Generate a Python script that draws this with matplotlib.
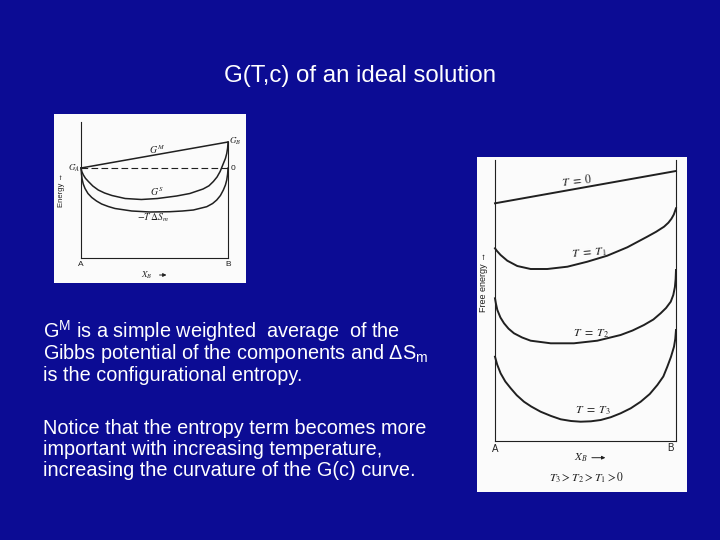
import numpy as np
import matplotlib.pyplot as plt

plt.rcParams['font.family'] = ['Liberation Sans', 'DejaVu Sans']
plt.rcParams['mathtext.fontset'] = 'custom'
plt.rcParams['mathtext.rm'] = 'Liberation Sans'
plt.rcParams['mathtext.it'] = 'Liberation Sans:italic'

bg = '#0c0c94'
ink = '#202020'
paper = '#fbfbfb'

# left sketch: x = X_B, energy relative to G_A (dashed line = 0)
x_gm = [0, 1]
g_mix = [0, 26]
x_gs = [0, 0.005, 0.016, 0.03, 0.05, 0.08, 0.117, 0.16, 0.21, 0.30, 0.41,
        0.52, 0.65, 0.74, 0.83, 0.87, 0.90, 0.925, 0.946, 0.968, 0.982,
        0.991, 0.997, 1.0]
g_sol = [0, -3.5, -7, -10.3, -13.5, -18, -22, -25, -27.5, -30.5, -31.5,
         -30.5, -28, -25.5, -21, -17.8, -13.5, -9, -3.5, 4.5, 9.5,
         14.5, 20, 26]
x_ts = [0, 0.003, 0.007, 0.015, 0.027, 0.047, 0.073, 0.105, 0.14, 0.185,
        0.231, 0.345, 0.469, 0.605, 0.69, 0.764, 0.855, 0.895, 0.923,
        0.948, 0.968, 0.982, 0.991, 0.997, 1.0]
g_ts = [0, -6, -11, -16, -20.5, -25.5, -29.5, -33, -36, -38.5,
        -40.5, -43, -44, -43.7, -43, -42, -38.7, -35.5, -32,
        -27.5, -22, -17, -12, -6, 0]

# right sketch: free energy curves at four temperatures
x_t0 = [0, 1]
g_t0 = [237.7, 270]
x_t1 = [0, 0.01, 0.031, 0.068, 0.123, 0.197, 0.289, 0.4, 0.51, 0.62,
        0.731, 0.841, 0.89, 0.934, 0.958, 0.975, 0.988, 1.0]
g_t1 = [192.7, 190.2, 186, 180.3, 175, 172, 172, 174.3, 179.3, 185.3,
        193.7, 204.3, 209.2, 214.3, 218.3, 222.3, 226.5, 232.7]
x_t2 = [0, 0.005, 0.013, 0.03, 0.05, 0.075, 0.105, 0.15, 0.197, 0.308,
        0.436, 0.565, 0.694, 0.76, 0.823, 0.875, 0.915, 0.945, 0.971,
        0.985, 0.994, 0.998, 1.0]
g_t2 = [142.7, 137.5, 131, 123.5, 117.7, 112.3, 107.7, 103.5, 100.3, 97.7,
        97.7, 100.3, 106, 110.5, 116, 121.5, 127.7, 133, 139.3,
        146, 154, 162, 171]
x_t3 = [0, 0.012, 0.031, 0.057, 0.087, 0.12, 0.16, 0.2, 0.252, 0.31,
        0.363, 0.42, 0.473, 0.53, 0.584, 0.64, 0.694, 0.75, 0.805, 0.855,
        0.897, 0.93, 0.952, 0.972, 0.989, 0.996, 1.0]
g_t3 = [84.3, 76.5, 67.7, 59.5, 52.7, 45.8, 39.3, 34.5, 29.3, 25,
        21.7, 20, 19.3, 19.7, 21, 23.8, 27.7, 32.7, 39.3, 47,
        56, 64.5, 74.3, 84, 94.3, 102, 111]

fig = plt.figure(figsize=(7.2, 5.4), dpi=100, facecolor=bg)

# title and slide text
fig.text(0.5, 1 - 76 / 540, 'G(T,c) of an ideal solution', color='white',
         fontsize=17.3, ha='center', va='center')
lines = [
    (338, r'G$^{\mathrm{M}}$ is a simple weighted  average  of the'),
    (359, r'Gibbs potential of the components and ΔS$_{\mathrm{m}}$'),
    (381, 'is the configurational entropy.'),
    (434, 'Notice that the entropy term becomes more'),
    (455, 'important with increasing temperature,'),
    (476, 'increasing the curvature of the G(c) curve.'),
]
for y, s in lines:
    fig.text(43 / 720, 1 - y / 540, s, color='white', fontsize=14.3,
             ha='left', va='baseline')

# left panel
ax1 = fig.add_axes([54 / 720, 1 - 283 / 540, 192 / 720, 169 / 540])
ax1.set_facecolor(paper)
ax1.set_xlim(-0.184, 1.122)
ax1.set_ylim(-115, 54)
ax1.set_xticks([])
ax1.set_yticks([])
for sp in ax1.spines.values():
    sp.set_visible(False)

ax1.plot([0, 0], [-90, 46], color=ink, lw=0.8)
ax1.plot([1, 1], [-90, 26], color=ink, lw=0.8)
ax1.plot([0, 1], [-90, -90], color=ink, lw=0.8)
ax1.plot([0, 1], [0, 0], color=ink, lw=0.8, dashes=(6, 3))
ax1.plot(x_gm, g_mix, color=ink, lw=1.1)
ax1.plot(x_gs, g_sol, color=ink, lw=1.1)
ax1.plot(x_ts, g_ts, color=ink, lw=1.1)

ax1.text(0.515, 18.7, r'$G^M$', math_fontfamily='stix', fontsize=7,
         color=ink, ha='center', va='center')
ax1.text(1.05, 26.3, r'$G_B$', math_fontfamily='stix', fontsize=6.5,
         color=ink, ha='center', va='center')
ax1.text(-0.045, -0.5, r'$G_A$', math_fontfamily='stix', fontsize=6.5,
         color=ink, ha='center', va='center')
ax1.text(1.035, -0.7, '0', fontsize=6, color=ink, ha='center', va='center')
ax1.text(0.515, -23.7, r'$G^S$', math_fontfamily='stix', fontsize=7,
         color=ink, ha='center', va='center')
ax1.text(0.49, -49.3, r'$-T\,\Delta S_m$', math_fontfamily='stix',
         fontsize=7, color=ink, ha='center', va='center')
ax1.text(-0.131, -22, 'Energy \u2192', rotation=90, fontsize=5.5,
         color=ink, ha='center', va='center')
ax1.text(0, -97, 'A', fontsize=6, color=ink, ha='center', va='center')
ax1.text(1, -97, 'B', fontsize=6, color=ink, ha='center', va='center')
ax1.text(0.45, -107, r'$X_B$', math_fontfamily='stix', fontsize=6.5,
         color=ink, ha='center', va='center')
ax1.annotate('', xy=(0.6, -107), xytext=(0.515, -107),
             arrowprops=dict(arrowstyle='-|>', lw=0.7, color=ink,
                             mutation_scale=5))

# right panel
ax2 = fig.add_axes([477 / 720, 1 - 492 / 540, 210 / 720, 335 / 540])
ax2.set_facecolor(paper)
ax2.set_xlim(-0.0994, 1.0608)
ax2.set_ylim(-51, 284)
ax2.set_xticks([])
ax2.set_yticks([])
for sp in ax2.spines.values():
    sp.set_visible(False)

ax2.plot([0, 0], [0, 281], color=ink, lw=0.8)
ax2.plot([1, 1], [0, 281], color=ink, lw=0.8)
ax2.plot([0, 1], [0, 0], color=ink, lw=0.8)
for xs, gs in [(x_t0, g_t0), (x_t1, g_t1), (x_t2, g_t2), (x_t3, g_t3)]:
    ax2.plot(xs, gs, color=ink, lw=1.4, solid_joinstyle='round')

ax2.text(0.455, 260.5, r'$T\ =\ 0$', math_fontfamily='stix', fontsize=8.5,
         color=ink, ha='center', va='center', rotation=6)
ax2.text(0.52, 187.7, r'$T\ =\ T_1$', math_fontfamily='stix', fontsize=8.5,
         color=ink, ha='center', va='center', rotation=5)
ax2.text(0.53, 107.7, r'$T\ =\ T_2$', math_fontfamily='stix', fontsize=8.5,
         color=ink, ha='center', va='center')
ax2.text(0.54, 30.3, r'$T\ =\ T_3$', math_fontfamily='stix', fontsize=8.5,
         color=ink, ha='center', va='center')
ax2.text(-0.061, 159, 'Free energy \u2192', rotation=90, fontsize=6.5,
         color=ink, ha='center', va='center')
ax2.text(0, -8, 'A', fontsize=7, color=ink, ha='center', va='center')
ax2.text(0.97, -7, 'B', fontsize=7, color=ink, ha='center', va='center')
ax2.text(0.473, -16.7, r'$X_B$', math_fontfamily='stix', fontsize=8,
         color=ink, ha='center', va='center')
ax2.annotate('', xy=(0.625, -16.7), xytext=(0.52, -16.7),
             arrowprops=dict(arrowstyle='-|>', lw=0.7, color=ink,
                             mutation_scale=5))
ax2.text(0.508, -37, r'$T_3 > T_2 > T_1 > 0$', math_fontfamily='stix',
         fontsize=8.5, color=ink, ha='center', va='center')

fig.savefig('out.png', dpi=100, facecolor=bg)
